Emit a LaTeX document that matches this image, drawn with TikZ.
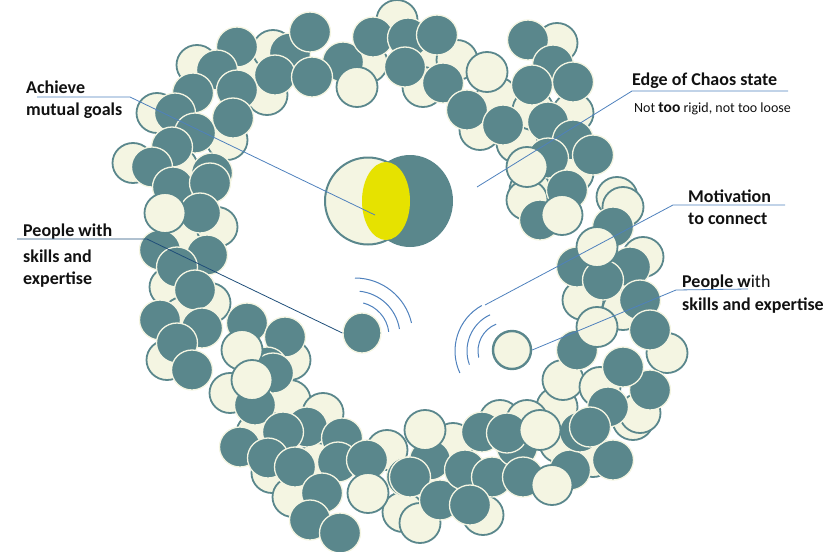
\documentclass[tikz,border=0pt]{standalone}
\usepackage{fontspec}
\setmainfont{Carlito}
\usetikzlibrary{shapes.geometric}
\definecolor{tealb}{RGB}{90,135,140}
\definecolor{creamb}{RGB}{244,245,226}
\definecolor{leadc}{RGB}{79,129,189}
\definecolor{leaddark}{RGB}{31,78,121}
\definecolor{venny}{RGB}{230,226,0}
\definecolor{txt}{RGB}{17,17,17}
\tikzset{
  lb/.style={fill=creamb, draw=tealb, line width=1.8pt},
  db/.style={fill=tealb, draw=creamb, line width=1.3pt},
  lead/.style={draw=leadc, line width=0.8pt},
  leadd/.style={draw=leaddark, line width=0.8pt},
  wave/.style={draw=leadc, line width=1pt},
  lab/.style={anchor=base west, inner sep=0pt, text=txt, font=\fontsize{18}{22}\selectfont\bfseries},
  sublab/.style={anchor=base west, inner sep=0pt, text=txt, font=\fontsize{14}{16}\selectfont}
}
\newcommand{\bub}[2]{\path[#1] (#2) ellipse [x radius=20.5pt, y radius=20pt];}
\begin{document}
\begin{tikzpicture}[x=1pt,y=-1pt]
\useasboundingbox (0,0) rectangle (839,552);
% back light bubbles
\foreach \u/\v in {197/65, 250/67, 273/50, 267/95, 157/113, 227/140, 133/163, 177/167,
397/20, 367/63, 428/63, 457/60, 423/87, 497/97, 480/130, 517/143, 557/43, 533/110, 573/113, 573/173, 530/190, 617/197,
187/240, 217/227, 170/287, 210/303, 183/317, 167/360, 257/380,
290/360, 230/393, 290/400, 323/413, 257/433, 317/463, 272/473, 387/450, 293/497, 403/512,
453/443, 420/523, 500/420, 483/515, 560/443, 557/407, 593/457, 633/420,
527/200, 623/207, 643/257, 583/300, 623/310, 667/353, 563/380, 600/387, 640/413, 527/420}
{\bub{lb}{\u,\v}}
% dark bubbles
\foreach \u/\v in {237/47, 290/53, 310/32, 217/70, 343/62, 275/75, 312/77, 193/93, 237/90, 175/113, 233/118, 195/133, 172/147, 152/167, 212/173, 173/187,
373/37, 408/38, 437/35, 405/67, 443/83, 467/110, 503/125, 528/40, 553/65, 573/82, 532/85, 548/122, 573/140, 593/155, 548/158, 567/190,
210/183, 200/213, 160/250, 207/255, 177/267, 195/290, 160/320, 202/328, 177/343, 192/370, 247/323, 285/337, 267/367,
273/373, 255/405, 307/427, 283/432, 342/438, 240/447, 268/458, 295/467, 338/462, 367/460, 322/493, 407/477, 310/520, 340/533,
430/460, 410/477, 440/500, 482/432, 465/470, 492/477, 470/505, 517/447, 523/477, 570/470, 580/432, 608/407, 613/460, 650/390,
540/220, 613/227, 630/267, 577/267, 603/280, 640/300, 650/330, 577/350, 623/367, 507/433, 590/427}
{\bub{db}{\u,\v}}
% front light bubbles
\foreach \u/\v in {357/87, 487/72, 527/167, 165/213, 242/350, 252/380, 368/493, 425/430, 540/430, 552/485, 562/215, 597/247, 597/327}
{\bub{lb}{\u,\v}}
% Venn
\node[ellipse, lb, line width=2pt, minimum width=86pt, minimum height=87pt, inner sep=0pt] (vl) at (368,201) {};
\node[ellipse, fill=tealb, minimum width=86pt, minimum height=92pt, inner sep=0pt] (vd) at (410,201) {};
\node[ellipse, fill=venny, minimum width=48pt, minimum height=78pt, inner sep=0pt] (vy) at (386,201) {};
% people bubbles
\node[ellipse, db, minimum width=38pt, minimum height=40pt, inner sep=0pt] (pd) at (362,333) {};
\node[ellipse, lb, line width=2.4pt, minimum width=38pt, minimum height=38pt, inner sep=0pt] (pl) at (512,350) {};
% waves
\coordinate (wc1) at (355,336);
\draw[wave] ([shift={(90:58pt)}]wc1) arc [start angle=90, end angle=13, radius=58pt];
\draw[wave] ([shift={(84:45pt)}]wc1) arc [start angle=84, end angle=9, radius=45pt];
\draw[wave] ([shift={(76:34pt)}]wc1) arc [start angle=76, end angle=7, radius=34pt];
\coordinate (wc2) at (507,351);
\draw[wave] ([shift={(119:52pt)}]wc2) arc [start angle=119, end angle=205, radius=52pt];
\draw[wave] ([shift={(115:40pt)}]wc2) arc [start angle=115, end angle=200, radius=40pt];
\draw[wave] ([shift={(112:29pt)}]wc2) arc [start angle=112, end angle=193, radius=29pt];
% labels
\node[lab] (t1a) at (26,93) {Achieve};
\node[lab] (t1b) at (26,115) {mutual goals};
\node[lab] (t2a) at (632,85) {Edge of Chaos state};
\node[sublab] (t2b) at (634,112) {Not {\fontsize{15.5}{16}\selectfont\bfseries too} rigid, not too loose};
\node[lab] (t3a) at (23,236) {People with};
\node[lab] (t3b) at (23,262) {skills and};
\node[lab] (t3c) at (23,284) {expertise};
\node[lab] (t4a) at (688,202) {Motivation};
\node[lab] (t4b) at (688,224) {to connect};
\node[lab] (t5a) at (682,287) {People w{\mdseries ith}};
\node[lab] (t5b) at (682,310) {skills and expertise};
% leaders
\coordinate (a1) at (37,97); \coordinate (a2) at (130,97); \coordinate (a3) at (375,215);
\draw[lead] (a1) -- (a2) -- (a3);
\coordinate (b1) at (788,91); \coordinate (b2) at (632,91); \coordinate (b3) at (477,187);
\draw[lead] (b1) -- (b2) -- (b3);
\coordinate (c1) at (17,239); \coordinate (c2) at (147,239);
\draw[leadd] (c1) -- (c2) -- (pd.west);
\coordinate (d1) at (785,205); \coordinate (d2) at (673,205); \coordinate (d3) at (485,305);
\draw[lead] (d1) -- (d2) -- (d3);
\coordinate (e1) at (748,289); \coordinate (e2) at (676,290);
\draw[lead] (e1) -- (e2) -- (pl.east);
\end{tikzpicture}
\end{document}
